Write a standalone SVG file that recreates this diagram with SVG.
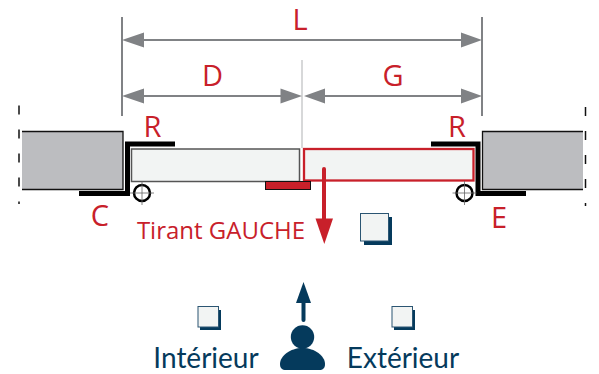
<svg xmlns="http://www.w3.org/2000/svg" width="599" height="374" viewBox="0 0 599 374">
<style>
.r{font-family:"Open Sans","Noto Sans",sans-serif;fill:#c8202a;font-size:29px;text-anchor:middle}
.b{font-family:Lato,"Open Sans",sans-serif;fill:#053a5c;font-size:28px;text-anchor:middle}
.dim{stroke:#808285;stroke-width:2;fill:none}
.ah{fill:#808285}
.wall{fill:#bcbdc0;stroke:#111;stroke-width:1.300}
.sq{fill:#f2f4f3;stroke:#2b5572;stroke-width:1}
.sd{fill:#053a5c}
.k{fill:none;stroke:#000;stroke-width:5}
</style>
<rect width="599" height="374" fill="#fff"/>
<g id="wall-left">
<path d="M19 105.500V204" fill="none" stroke="#111" stroke-width="1.500" stroke-dasharray="9 15"/>
<path class="wall" d="M22 131.500H123V189.500H22"/>
<path class="k" d="M175 144H127.500V193.500H79"/>
</g>
<g id="wall-right">
<path d="M585.500 107V206" fill="none" stroke="#111" stroke-width="1.500" stroke-dasharray="9 15"/>
<path class="wall" d="M583 131.500H482.500V189.500H583"/>
<path class="k" d="M431 144H478V193.500H526"/>
</g>
<g id="panel-left">
<rect x="131.500" y="149" width="168" height="32.500" fill="#f2f4f3" stroke="#555" stroke-width="1.500"/>
</g>
<g id="panel-right">
<rect x="304" y="149" width="169.500" height="31.500" fill="#f2f4f3" stroke="#c8202a" stroke-width="2.300"/>
</g>
<g id="handle">
<rect x="265.500" y="181.500" width="45" height="8" fill="#c8202a" stroke="#111" stroke-width="1"/>
</g>
<g id="hinge-left">
<circle cx="142" cy="193" r="8" fill="none" stroke="#000" stroke-width="2.500"/>
<path d="M142 181V205M130 193H154" stroke="#666" stroke-width="0.800"/>
</g>
<g id="hinge-right">
<circle cx="464.500" cy="193" r="8" fill="none" stroke="#000" stroke-width="2.500"/>
<path d="M464.500 181V205M452.500 193H476.500" stroke="#666" stroke-width="0.800"/>
</g>
<g id="connectors">
<path class="dim" d="M122 17V116M482 17V116"/>
<path d="M302 60V148" fill="none" stroke="#bcbec0" stroke-width="1.200"/>
<path class="dim" d="M140 40H466M140 96H284M320 96H466"/>
<path class="ah" d="M122 40L144 32.500V47.500ZM482 40L461 32.500V47.500ZM122 96L144 88.500V103.500ZM302 96L280.500 88.500V103.500ZM304 96L325 88.500V103.500ZM482 96L461 88.500V103.500Z"/>
<path d="M324 169V222" fill="none" stroke="#c8202a" stroke-width="4" stroke-linecap="round"/>
<path d="M315.500 218.500H333L324.300 244Z" fill="#c8202a"/>
<path d="M303.500 320V296" fill="none" stroke="#053a5c" stroke-width="4" stroke-linecap="round"/>
<path d="M296 303H311L303.500 282Z" fill="#053a5c"/>
</g>
<g id="labels-dim">
<text class="r" x="300" y="30">L</text>
<text class="r" x="212.500" y="86">D</text>
<text class="r" x="393" y="86">G</text>
</g>
<g id="labels-side">
<text class="r" x="152.500" y="137">R</text>
<text class="r" x="457" y="137">R</text>
<text class="r" x="100" y="226">C</text>
<text class="r" x="499" y="228">E</text>
<text class="r" x="221" y="239" style="font-size:24px">Tirant GAUCHE</text>
</g>
<g id="icon-room">
<rect class="sd" x="364" y="217" width="28" height="28"/>
<rect class="sq" x="360.500" y="213.500" width="28" height="27.500"/>
</g>
<g id="icon-int">
<rect class="sd" x="200" y="310" width="21" height="20"/>
<rect class="sq" x="198" y="306.500" width="20.500" height="20.500"/>
</g>
<g id="icon-ext">
<rect class="sd" x="394" y="310" width="21" height="20"/>
<rect class="sq" x="392" y="306.500" width="20.500" height="20.500"/>
</g>
<g id="person">
<circle cx="302.500" cy="337" r="11.700" fill="#053a5c"/>
<path d="M280 364C280 356 290 348 302.500 348C315 348 325 356 325 364C325 368 323 370 319 370H286C282 370 280 368 280 364Z" fill="#053a5c"/>
</g>
<g id="labels-bottom">
<text class="b" x="206" y="368">Intérieur</text>
<text class="b" x="403" y="368">Extérieur</text>
</g>
</svg>
